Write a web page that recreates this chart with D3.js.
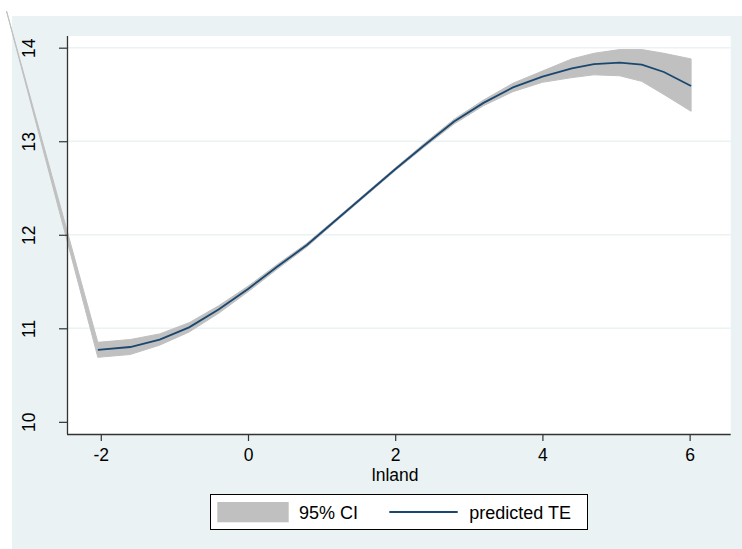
<!DOCTYPE html>
<html>
<head>
<meta charset="utf-8">
<script src="https://cdn.jsdelivr.net/npm/d3@7"></script>
<style>
  html, body { margin: 0; padding: 0; background: #ffffff; }
  svg { display: block; }
  text { font-family: "Liberation Sans", Arial, sans-serif; fill: #000; }
</style>
</head>
<body>
<svg id="chart" width="742" height="549"></svg>
<script>
// ---- data ----
const lnland = [-2.04, -1.6, -1.2, -0.8, -0.4, 0, 0.4, 0.8, 1.2, 1.6, 2.0, 2.4, 2.8, 3.2, 3.6, 4.0, 4.4, 4.7, 5.05, 5.35, 5.65, 6.02];
const predictedTE = [10.77, 10.80, 10.88, 11.01, 11.20, 11.42, 11.66, 11.89, 12.16, 12.43, 12.70, 12.96, 13.21, 13.41, 13.575, 13.69, 13.78, 13.825, 13.84, 13.82, 13.74, 13.59];
const ciUpper = [10.85, 10.88, 10.94, 11.06, 11.24, 11.45, 11.685, 11.91, 12.175, 12.445, 12.715, 12.98, 13.235, 13.44, 13.62, 13.75, 13.88, 13.94, 13.98, 13.98, 13.94, 13.88];
const ciLower = [10.69, 10.72, 10.82, 10.96, 11.16, 11.39, 11.635, 11.87, 12.145, 12.415, 12.685, 12.94, 13.185, 13.38, 13.53, 13.63, 13.68, 13.71, 13.70, 13.64, 13.50, 13.32];
// stray closing vertex of the CI polygon (drawn outside the plot in the original)
const ciStrayX = [-3.28];
const ciStrayY = [14.39];
const xTicks = [-2, 0, 2, 4, 6];
const yTicks = [10, 11, 12, 13, 14];
const yGrid = [11, 12, 13, 14];
const xTitle = "lnland";
const legendLabels = ["95% CI", "predicted TE"];

// ---- layout ----
const W = 742, H = 549;
const FS = 17.5;
const plot = { left: 67, right: 730.7, top: 36, bottom: 434 };
const svg = d3.select("#chart");

const x = d3.scaleLinear().domain([-2.459, 6.558]).range([plot.left, plot.right]);
const y = d3.scaleLinear().domain([9.87, 14.125]).range([plot.bottom, plot.top]);
const fmt = d => String(d); // plain hyphen-minus like the original

// outer graph region
svg.append("rect").attr("x", 12).attr("y", 16).attr("width", W - 12).attr("height", H - 16)
  .attr("fill", "#EAF2F3");
// plot region
svg.append("rect").attr("x", plot.left).attr("y", plot.top)
  .attr("width", plot.right - plot.left).attr("height", plot.bottom - plot.top)
  .attr("fill", "#ffffff");

// gridlines
svg.append("g").selectAll("line").data(yGrid).join("line")
  .attr("x1", plot.left).attr("x2", plot.right)
  .attr("y1", d => y(d)).attr("y2", d => y(d))
  .attr("stroke", "#EAF2F3").attr("stroke-width", 1.5);

// CI polygon (upper forward, lower backward, stray vertex)
const poly = [];
lnland.forEach((v, i) => poly.push([x(v), y(ciUpper[i])]));
for (let i = lnland.length - 1; i >= 0; i--) poly.push([x(lnland[i]), y(ciLower[i])]);
ciStrayX.forEach((v, i) => poly.push([x(v), y(ciStrayY[i])]));
svg.append("path")
  .attr("d", d3.line()(poly) + "Z")
  .attr("fill", "#C0C0C0").attr("stroke", "#C0C0C0").attr("stroke-width", 1)
  .attr("stroke-linejoin", "round");

// predicted line
svg.append("path")
  .datum(lnland.map((v, i) => [v, predictedTE[i]]))
  .attr("d", d3.line().x(d => x(d[0])).y(d => y(d[1])))
  .attr("fill", "none").attr("stroke", "#1A476F").attr("stroke-width", 1.8);

// axes
const xAxis = d3.axisBottom(x).tickValues(xTicks).tickSize(7).tickFormat(fmt);
const gx = svg.append("g").attr("transform", `translate(0,${plot.bottom})`).call(xAxis);
gx.select(".domain").attr("stroke", "#333").attr("stroke-width", 1.3)
  .attr("d", `M${plot.left},0.5H${plot.right}`);
gx.selectAll(".tick line").attr("stroke", "#333").attr("stroke-width", 1.2);
gx.selectAll(".tick text").attr("font-size", FS).attr("font-family", "Liberation Sans, Arial, sans-serif")
  .attr("fill", "#000").attr("dy", null).attr("y", 26.5);

const yAxis = d3.axisLeft(y).tickValues(yTicks).tickSize(8).tickFormat(fmt);
const gy = svg.append("g").attr("transform", `translate(${plot.left},0)`).call(yAxis);
gy.select(".domain").attr("stroke", "#333").attr("stroke-width", 1.3)
  .attr("d", `M0.5,${plot.top}V${plot.bottom}`);
gy.selectAll(".tick line").attr("stroke", "#333").attr("stroke-width", 1.2);
gy.selectAll(".tick text")
  .attr("font-size", FS).attr("font-family", "Liberation Sans, Arial, sans-serif").attr("fill", "#000")
  .attr("x", null).attr("dy", null).attr("text-anchor", "middle")
  .attr("transform", `translate(${35 - plot.left},0) rotate(-90)`);

// x title
svg.append("text").attr("x", x(2)).attr("y", 481).attr("text-anchor", "middle")
  .attr("font-size", FS).text(xTitle);

// legend
const lg = svg.append("g");
lg.append("rect").attr("x", 210.5).attr("y", 494.5).attr("width", 377).attr("height", 35)
  .attr("fill", "#fff").attr("stroke", "#000").attr("stroke-width", 1);
lg.append("rect").attr("x", 217.3).attr("y", 502).attr("width", 71.4).attr("height", 20.3)
  .attr("fill", "#C0C0C0");
lg.append("text").attr("x", 299).attr("y", 518.5).attr("font-size", 18).text(legendLabels[0]);
lg.append("line").attr("x1", 389.3).attr("x2", 457.7).attr("y1", 512).attr("y2", 512)
  .attr("stroke", "#1A476F").attr("stroke-width", 1.8);
lg.append("text").attr("x", 469.3).attr("y", 518.5).attr("font-size", 18).text(legendLabels[1]);
</script>
</body>
</html>
